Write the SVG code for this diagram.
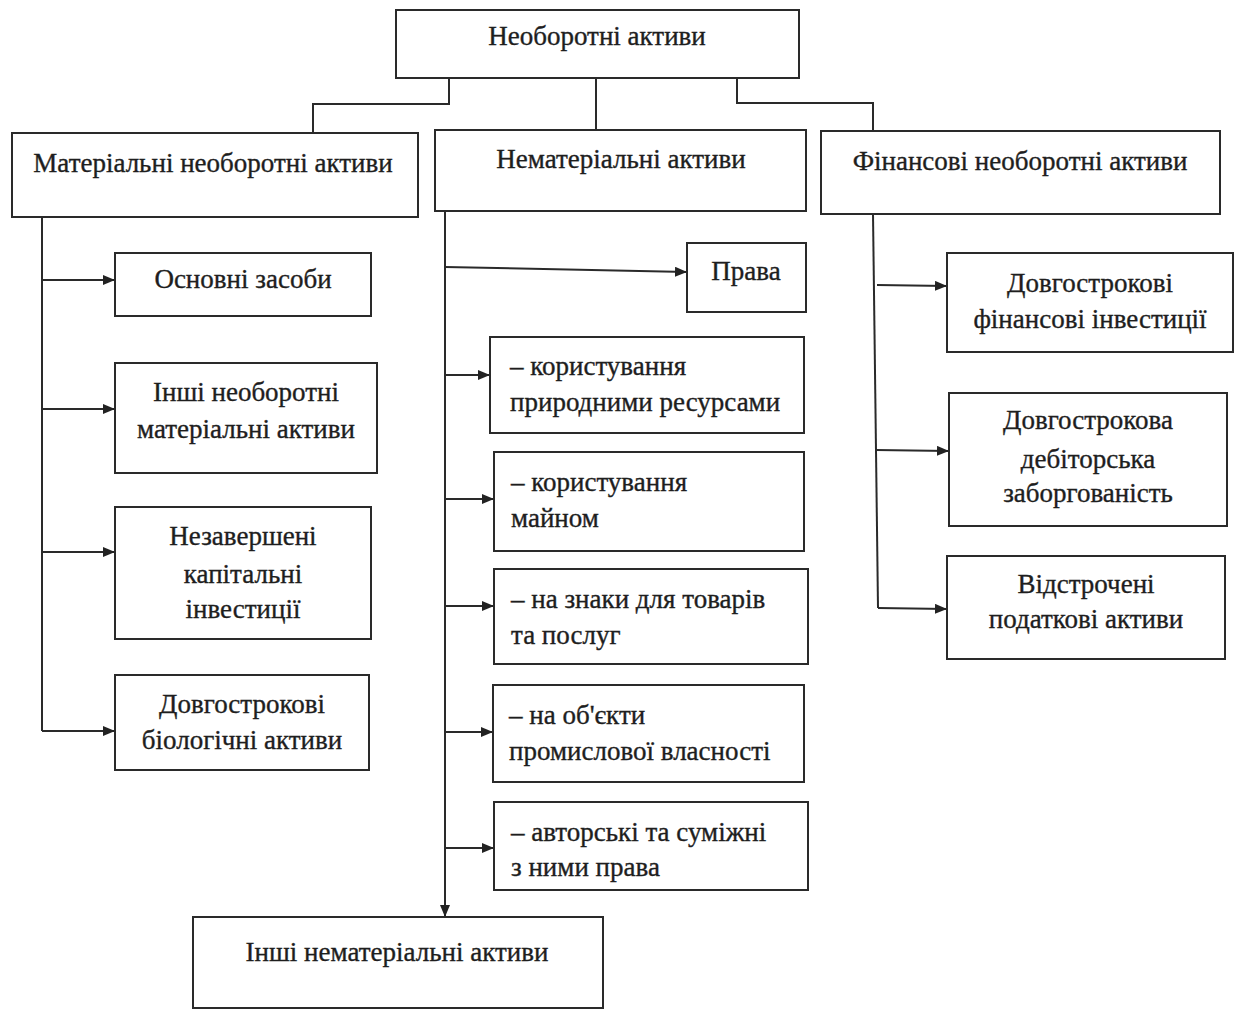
<svg xmlns="http://www.w3.org/2000/svg" width="1238" height="1010" viewBox="0 0 1238 1010">
<style>
.box{fill:#fff;stroke:#2a2a2a;stroke-width:2}
.ln{fill:none;stroke:#2a2a2a;stroke-width:2}
text{font-family:"Liberation Serif","Times New Roman",serif;font-size:27px;fill:#1e1e1e;stroke:#1e1e1e;stroke-width:0.35}
.c{text-anchor:middle}
</style>
<defs>
<marker id="ah" markerWidth="12" markerHeight="10" refX="12" refY="5" orient="auto" markerUnits="userSpaceOnUse">
<path d="M0,0 L12,5 L0,10 Z" fill="#222"/>
</marker>
</defs>
<rect width="1238" height="1010" fill="#fff"/>
<g id="connectors">
<path class="ln" d="M449,78 V104 H313 V133"/>
<path class="ln" d="M596,78 V130"/>
<path class="ln" d="M737,78 V103 H873 V131"/>
<path class="ln" d="M42,217 V731"/>
<path class="ln" d="M42,280 H115" marker-end="url(#ah)"/>
<path class="ln" d="M42,409 H115" marker-end="url(#ah)"/>
<path class="ln" d="M42,552 H115" marker-end="url(#ah)"/>
<path class="ln" d="M42,731 H115" marker-end="url(#ah)"/>
<path class="ln" d="M445,211 V917" marker-end="url(#ah)"/>
<path class="ln" d="M445,267 L687,272" marker-end="url(#ah)"/>
<path class="ln" d="M445,375 H490" marker-end="url(#ah)"/>
<path class="ln" d="M445,499 H494" marker-end="url(#ah)"/>
<path class="ln" d="M445,606 H494" marker-end="url(#ah)"/>
<path class="ln" d="M445,732 H493" marker-end="url(#ah)"/>
<path class="ln" d="M445,848 H494" marker-end="url(#ah)"/>
<path class="ln" d="M873,214 L878,608"/>
<path class="ln" d="M877,285 L947,286" marker-end="url(#ah)"/>
<path class="ln" d="M876,450 L949,451" marker-end="url(#ah)"/>
<path class="ln" d="M878,608 L947,609" marker-end="url(#ah)"/>
</g>
<g id="n-root"><rect class="box" x="396" y="10" width="403" height="68"/><text class="c" x="597" y="45">Необоротні активи</text></g>
<g id="n-mat"><rect class="box" x="12" y="133" width="406" height="84"/><text class="c" x="213" y="172">Матеріальні необоротні активи</text></g>
<g id="n-nemat"><rect class="box" x="435" y="130" width="371" height="81"/><text class="c" x="621" y="168">Нематеріальні активи</text></g>
<g id="n-fin"><rect class="box" x="821" y="131" width="399" height="83"/><text class="c" x="1020" y="170">Фінансові необоротні активи</text></g>
<g id="n-os"><rect class="box" x="115" y="253" width="256" height="63"/><text class="c" x="243" y="288">Основні засоби</text></g>
<g id="n-inshi-mat"><rect class="box" x="115" y="363" width="262" height="110"/><text class="c" x="246" y="401">Інші необоротні</text><text class="c" x="246" y="438">матеріальні активи</text></g>
<g id="n-nezav"><rect class="box" x="115" y="507" width="256" height="132"/><text class="c" x="243" y="545">Незавершені</text><text class="c" x="243" y="583">капітальні</text><text class="c" x="243" y="618">інвестиції</text></g>
<g id="n-bio"><rect class="box" x="115" y="675" width="254" height="95"/><text class="c" x="242" y="713">Довгострокові</text><text class="c" x="242" y="749">біологічні активи</text></g>
<g id="n-prava"><rect class="box" x="687" y="243" width="119" height="69"/><text class="c" x="746" y="280">Права</text></g>
<g id="n-pryr"><rect class="box" x="490" y="337" width="314" height="96"/><text x="510" y="375">– користування</text><text x="510" y="411">природними ресурсами</text></g>
<g id="n-mayno"><rect class="box" x="494" y="452" width="310" height="99"/><text x="511" y="491">– користування</text><text x="511" y="527">майном</text></g>
<g id="n-znaky"><rect class="box" x="494" y="569" width="314" height="95"/><text x="511" y="608">– на знаки для товарів</text><text x="511" y="644">та послуг</text></g>
<g id="n-obj"><rect class="box" x="493" y="685" width="311" height="97"/><text x="509" y="724">– на об'єкти</text><text x="509" y="760">промислової власності</text></g>
<g id="n-avt"><rect class="box" x="494" y="802" width="314" height="88"/><text x="511" y="841">– авторські та суміжні</text><text x="511" y="876">з ними права</text></g>
<g id="n-inshi-nemat"><rect class="box" x="193" y="917" width="410" height="91"/><text class="c" x="397" y="961">Інші нематеріальні активи</text></g>
<g id="n-dfi"><rect class="box" x="947" y="253" width="286" height="99"/><text class="c" x="1090" y="292">Довгострокові</text><text class="c" x="1090" y="328">фінансові інвестиції</text></g>
<g id="n-ddz"><rect class="box" x="949" y="393" width="278" height="133"/><text class="c" x="1088" y="429">Довгострокова</text><text class="c" x="1088" y="468">дебіторська</text><text class="c" x="1088" y="502">заборгованість</text></g>
<g id="n-vpa"><rect class="box" x="947" y="556" width="278" height="103"/><text class="c" x="1086" y="593">Відстрочені</text><text class="c" x="1086" y="628">податкові активи</text></g>
</svg>
